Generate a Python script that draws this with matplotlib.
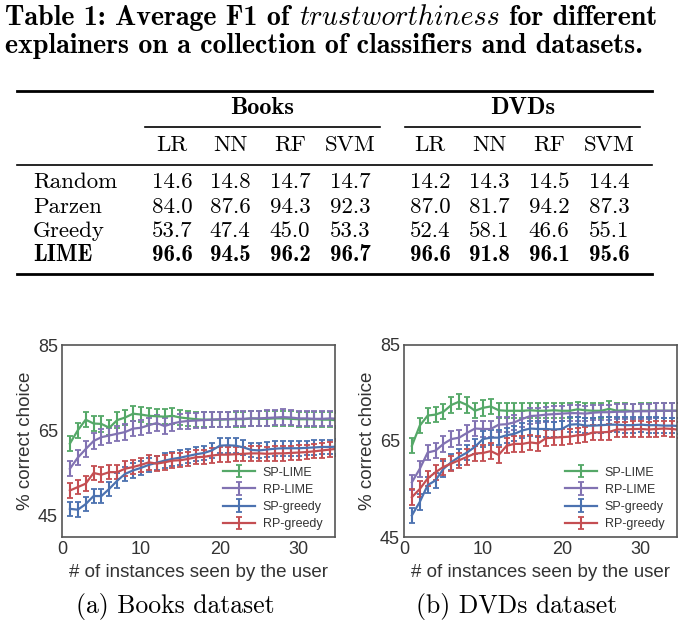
import matplotlib
matplotlib.use("Agg")
import matplotlib.pyplot as plt
from matplotlib.lines import Line2D
from matplotlib.offsetbox import TextArea, HPacker, AnchoredOffsetbox

# ---- table data ----
datasets = ["Books", "DVDs"]
classifiers = ["LR", "NN", "RF", "SVM"]
explainers = ["Random", "Parzen", "Greedy", "LIME"]
f1_books = [
    ["14.6", "14.8", "14.7", "14.7"],
    ["84.0", "87.6", "94.3", "92.3"],
    ["53.7", "47.4", "45.0", "53.3"],
    ["96.6", "94.5", "96.2", "96.7"],
]
f1_dvds = [
    ["14.2", "14.3", "14.5", "14.4"],
    ["87.0", "81.7", "94.2", "87.3"],
    ["52.4", "58.1", "46.6", "55.1"],
    ["96.6", "91.8", "96.1", "95.6"],
]

# ---- curves (x = instances seen) ----
n_seen = list(range(1, 36))
series_names = ["SP-LIME", "RP-LIME", "SP-greedy", "RP-greedy"]
colors = ["#55A868", "#8172B2", "#4C72B0", "#C44E52"]

books_sp_lime = [61.9, 65.0, 67.5, 66.6, 66.5, 65.6, 67.4, 68.0, 68.9, 68.7, 68.4, 68.3,
                 68.2, 68.4, 68.0, 67.8, 67.6, 67.5, 67.5, 67.5, 67.6, 67.6, 67.6, 67.8,
                 67.7, 67.7, 67.8, 67.8, 67.7, 67.6, 67.6, 67.6, 67.5, 67.5, 67.3]
books_rp_lime = [56.0, 58.6, 60.6, 62.5, 63.4, 63.8, 64.2, 64.6, 65.4, 65.6, 66.2, 66.7,
                 66.0, 66.6, 67.0, 67.2, 67.3, 67.4, 67.5, 67.6, 67.6, 67.7, 67.7, 67.8,
                 67.8, 67.9, 68.0, 68.1, 68.0, 67.8, 67.8, 67.7, 67.7, 67.8, 67.7]
books_sp_greedy = [46.6, 46.4, 47.7, 49.6, 49.6, 51.3, 53.2, 54.8, 55.6, 56.2, 56.9, 57.4,
                   57.9, 58.3, 58.6, 59.0, 59.4, 59.7, 60.3, 61.4, 61.5, 61.4, 61.0, 60.4,
                   60.3, 60.5, 60.7, 60.8, 60.8, 60.8, 60.9, 61.0, 61.1, 61.1, 61.2]
books_rp_greedy = [50.9, 51.7, 52.5, 55.0, 54.6, 55.2, 55.2, 56.0, 56.4, 56.9, 57.5, 57.2,
                   57.5, 57.9, 58.0, 58.3, 58.7, 58.8, 59.1, 59.3, 59.3, 59.4, 59.5, 59.6,
                   59.6, 59.5, 59.6, 59.6, 59.7, 59.8, 59.9, 60.1, 60.3, 60.5, 60.7]

dvds_sp_lime = [64.0, 68.2, 70.3, 70.5, 71.1, 72.5, 73.2, 72.5, 71.3, 71.9, 72.2, 71.4,
                71.3, 71.3, 71.3, 71.4, 71.3, 71.3, 71.4, 71.3, 71.3, 71.6, 71.4, 71.3,
                71.3, 71.7, 71.3, 71.4, 71.2, 71.3, 71.3, 71.3, 71.3, 71.3, 71.3]
dvds_rp_lime = [56.4, 59.2, 62.6, 63.0, 64.4, 65.4, 65.7, 66.7, 67.6, 67.5, 67.5, 68.4,
                68.5, 68.9, 69.6, 70.2, 70.3, 70.5, 70.6, 70.7, 70.8, 70.8, 70.7, 70.9,
                71.0, 71.0, 71.1, 71.1, 71.2, 71.2, 71.2, 71.3, 71.3, 71.3, 71.3]
dvds_sp_greedy = [49.5, 52.3, 55.8, 56.8, 59.2, 60.6, 61.7, 62.6, 63.8, 65.4, 65.7, 65.7,
                  66.2, 66.5, 67.2, 67.6, 67.5, 67.5, 67.4, 67.5, 68.4, 68.5, 68.2, 68.2,
                  68.3, 68.4, 68.4, 68.3, 68.3, 68.4, 68.3, 68.3, 68.2, 68.2, 68.1]
dvds_rp_greedy = [53.3, 55.0, 57.2, 58.5, 59.6, 60.3, 61.0, 61.7, 62.4, 62.5, 62.9, 62.1,
                  64.0, 64.4, 64.4, 64.7, 64.5, 65.6, 65.7, 65.8, 65.9, 66.2, 66.3, 66.8,
                  66.8, 66.9, 67.4, 67.4, 67.5, 67.5, 67.4, 67.5, 67.6, 67.5, 67.3]

# half-width of the error bars, one per series
books_err = [1.8, 1.8, 1.7, 1.7]
dvds_err = [1.6, 1.6, 1.6, 1.6]

W, H = 685, 632
fig = plt.figure(figsize=(W / 100, H / 100), dpi=100)


def fx(x):
    return x / W


def fy(y):
    return 1 - y / H


def hline(y, x0, x1, lw):
    fig.add_artist(Line2D([fx(x0), fx(x1)], [fy(y), fy(y)], transform=fig.transFigure,
                          color="black", lw=lw))


# ---- caption above the table ----
cap_bold = dict(family="cmb10", size=20.2)
cap_it = dict(family="cmmi10", size=20.2)
line1 = HPacker(children=[TextArea("Table 1: Average F1 of", textprops=cap_bold),
                          TextArea("trustworthiness", textprops=cap_it),
                          TextArea("for different", textprops=cap_bold)],
                sep=7, pad=0, align="baseline")
fig.add_artist(AnchoredOffsetbox(loc="upper left", child=line1, pad=0, frameon=False,
                                 bbox_to_anchor=(fx(5), fy(5)), bbox_transform=fig.transFigure,
                                 borderpad=0))
fig.text(fx(5), fy(46), "explainers on a collection of classifiers and datasets.",
         va="center", ha="left", **cap_bold)

# ---- table ----
body = dict(family="cmr10", size=16.5)
body_b = dict(family="cmb10", size=16.5)
col_x = [[172, 230, 290, 350], [430, 489, 549, 609]]
group_x = [(145, 380), (405, 640)]
row_y = [182, 207, 231, 255]

hline(91, 17, 652, 2.0)
for gi, name in enumerate(datasets):
    x0, x1 = group_x[gi]
    fig.text(fx((x0 + x1) / 2), fy(108), name, ha="center", va="center",
             family="cmb10", size=17.5)
    hline(127, x0, x1, 1.2)
    for ci, c in enumerate(classifiers):
        fig.text(fx(col_x[gi][ci]), fy(145), c, ha="center", va="center", **body)
hline(165, 17, 652, 1.2)
for ri, ex in enumerate(explainers):
    props = body_b if ex == "LIME" else body
    fig.text(fx(33), fy(row_y[ri]), ex, ha="left", va="center", **props)
    for gi, vals in enumerate([f1_books, f1_dvds]):
        for ci in range(len(classifiers)):
            fig.text(fx(col_x[gi][ci]), fy(row_y[ri]), vals[ri][ci], ha="center",
                     va="center", **props)
hline(274, 17, 652, 2.0)

# ---- two line charts ----
plt.rcParams["font.family"] = ["Liberation Sans", "DejaVu Sans"]
panels = [
    ([books_sp_lime, books_rp_lime, books_sp_greedy, books_rp_greedy], books_err,
     (40, 85), "(a) Books dataset", 62, 175),
    ([dvds_sp_lime, dvds_rp_lime, dvds_sp_greedy, dvds_rp_greedy], dvds_err,
     (45, 85), "(b) DVDs dataset", 404, 517),
]
for ys, errs, ylim, caption, left_px, cap_x in panels:
    ax = fig.add_axes([fx(left_px), fy(537), 273 / W, 192 / H])
    for vals, e, name, col in zip(ys, errs, series_names, colors):
        ax.errorbar(n_seen, vals, yerr=e, color=col, lw=1.6, elinewidth=1.5,
                    capsize=2.5, capthick=1.3, label=name)
    ax.set_xlim(0, 34.6)
    ax.set_ylim(*ylim)
    ax.set_yticks([45, 65, 85])
    ax.set_xticks([0, 10, 20, 30])
    ax.tick_params(length=0, pad=3, labelsize=13, colors="#333333")
    for s in ax.spines.values():
        s.set_color("#555555")
        s.set_linewidth(1.2)
    ax.set_xlabel("# of instances seen by the user", fontsize=13.5, color="#333333",
                  labelpad=4)
    ax.set_ylabel("% correct choice", fontsize=13.5, color="#333333", labelpad=3)
    ax.legend(loc="lower right", bbox_to_anchor=(1.0, -0.03), frameon=False,
              fontsize=9, handlelength=2.6, handletextpad=0.6, labelspacing=0.42,
              borderaxespad=0.6, labelcolor="#333333")
    fig.text(fx(cap_x), fy(606), caption, ha="center", va="center",
             family="cmr10", size=18.5)

fig.savefig("out.png", dpi=100)
